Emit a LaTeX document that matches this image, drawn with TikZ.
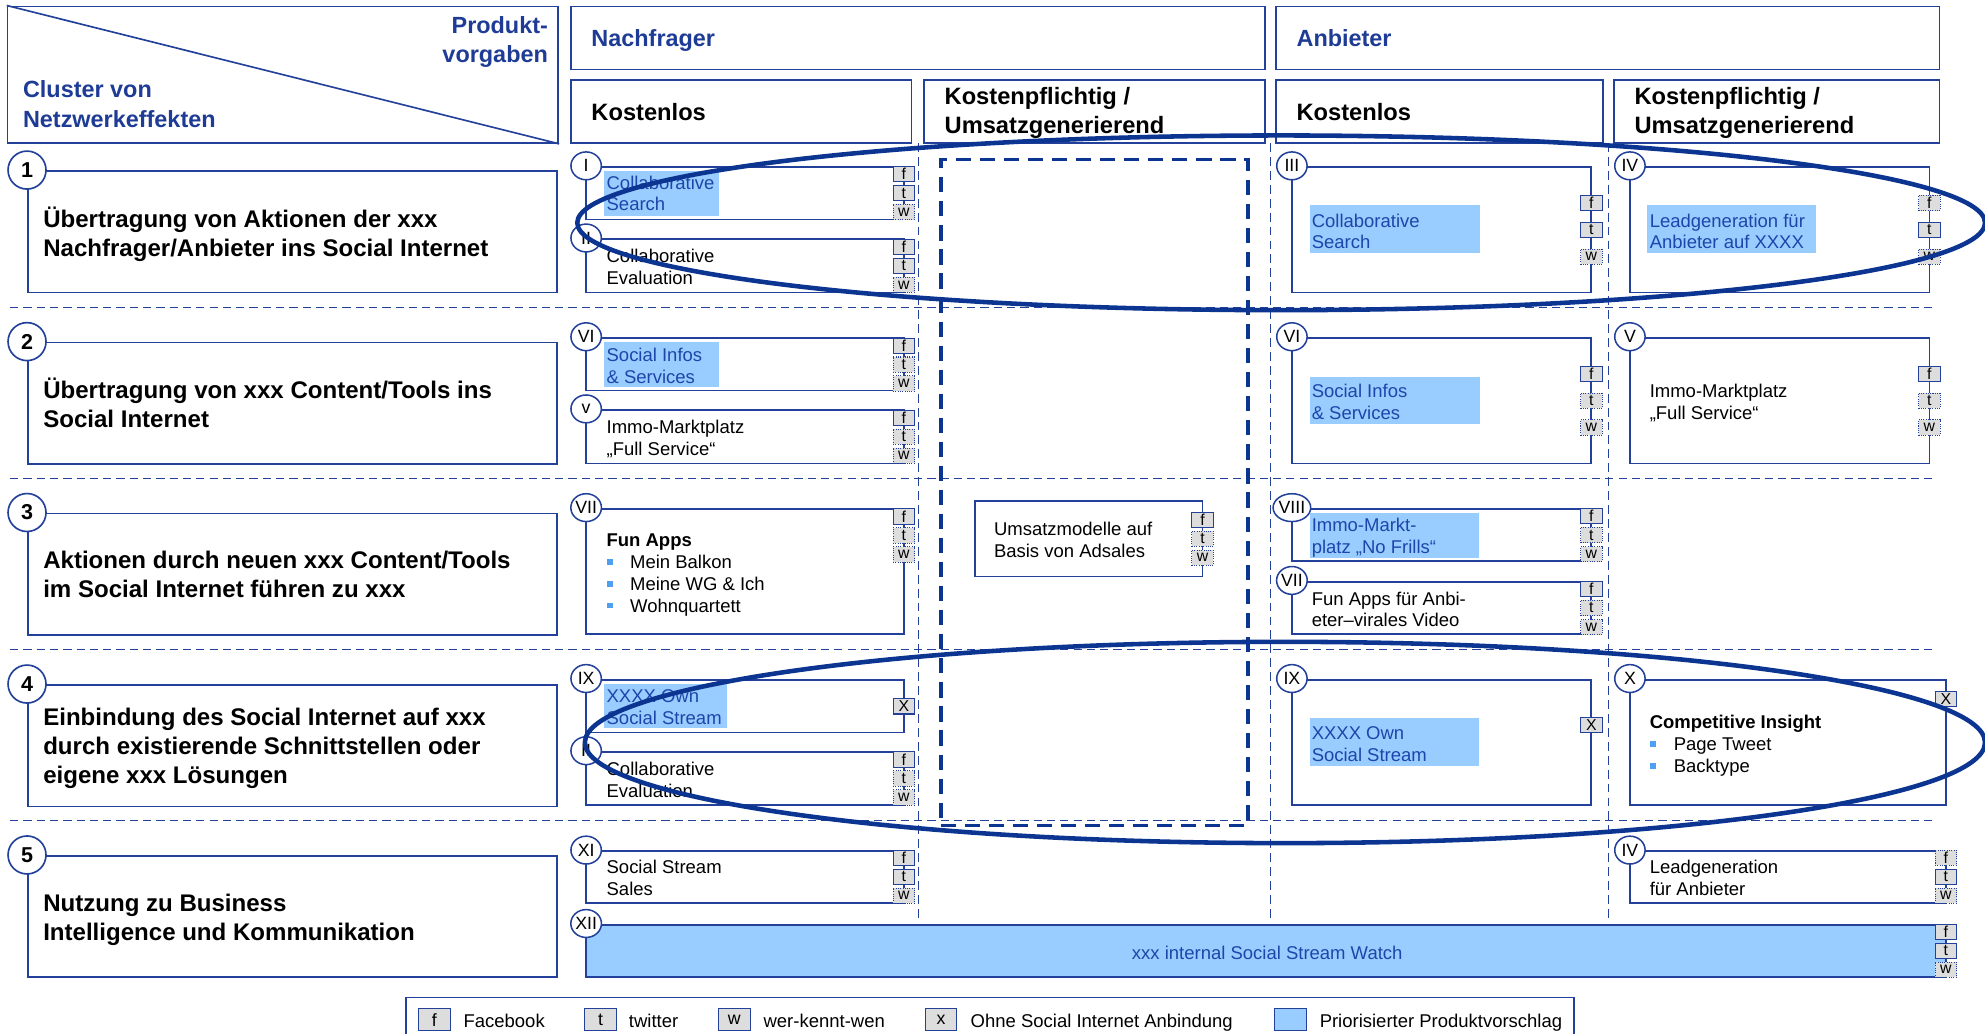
\documentclass[tikz,border=0pt]{standalone}
\usepackage{fontspec}
\setmainfont{Liberation Sans}
\usetikzlibrary{fit,shapes.geometric}
\definecolor{bblue}{RGB}{35,65,155}
\definecolor{navy}{RGB}{12,52,145}
\definecolor{hdrblue}{RGB}{30,60,150}
\definecolor{hlfill}{RGB}{153,204,255}
\definecolor{hltext}{RGB}{30,70,170}
\definecolor{bgray}{RGB}{221,221,221}
\definecolor{bulletblue}{RGB}{80,160,240}

% three channel badges (f / t / w) stacked on a box edge
\newcommand\ftw[8]{%
  \node[bdg,#6] (#1f) at (#2,#3) {f};
  \node[bdg,#7] (#1t) at (#2,#4) {t};
  \node[bdg,#8] (#1w) at (#2,#5) {w};}

\tikzset{
  box/.style={draw=bblue, line width=1.3pt, fill=white, inner sep=0pt},
  bigc/.style={circle, draw=bblue, line width=1.3pt, fill=white, minimum size=30pt, inner sep=0pt, font=\fontsize{17}{17}\selectfont\bfseries},
  romc/.style={ellipse, draw=bblue, line width=1.2pt, fill=white, minimum width=24pt, minimum height=22pt, inner sep=0pt, font=\fontsize{14}{14}\selectfont},
  bdg/.style={draw=bblue, fill=bgray, line width=0.8pt, minimum width=17pt, minimum height=12pt, inner sep=0pt, font=\fontsize{12.5}{12.5}\selectfont},
  bon/.style={},
  boff/.style={densely dotted},
  hl/.style={fill=hlfill, inner sep=0pt},
  ctext/.style={anchor=west, align=left, inner sep=0pt, font=\fontsize{14.6}{17.3}\selectfont, execute at begin node=\strut, execute at end node=\strut, yshift=-2.8pt},
  bluetext/.style={ctext, text=hltext},
  boldtext/.style={ctext, font=\fontsize{14.6}{17.3}\selectfont\bfseries},
  lbltext/.style={ctext, font=\fontsize{19}{23}\selectfont\bfseries, yshift=-0.6pt},
  hdrtext/.style={ctext, font=\fontsize{18.5}{23}\selectfont\bfseries, text=hdrblue, yshift=0.7pt},
  hdrblack/.style={ctext, font=\fontsize{18.7}{23}\selectfont\bfseries, yshift=0.4pt},
  rowsep/.style={bblue, line width=1.2pt, dash pattern=on 6.5pt off 4pt},
  colsep/.style={bblue, line width=1.2pt, dash pattern=on 7pt off 4pt},
  bul/.style={fill=bulletblue, minimum size=4.5pt, inner sep=0pt},
  focus/.style={ellipse, draw=navy, line width=3.6pt, inner sep=0pt},
  lbdg/.style={draw=bblue, fill=bgray, line width=0.8pt, minimum width=25pt, minimum height=17pt, inner sep=0pt, font=\fontsize{14}{14}\selectfont},
}

\begin{document}
\begin{tikzpicture}[x=1pt,y=-1pt]
\useasboundingbox (0,0) rectangle (1568,816);
\clip (0,0) rectangle (1568,816);

% row and column separators
\foreach \yy in {243,378,513,648} \draw[rowsep] (8,\yy) -- (1530,\yy);
\foreach \xx in {725.5,1003.5,1270.5} \draw[colsep] (\xx,113) -- (\xx,726);

% paid-offer area on the demand side
\node[draw=navy, line width=3pt, dash pattern=on 12pt off 7pt, inner sep=0pt, fit={(743,126) (986,652)}] (paid) {};

% ---------- header ----------
\node[box, fit={(6,5) (441,113)}] (corner) {};
\draw[bblue, line width=1.3pt] (corner.north west) -- (corner.south east);
\node[hdrtext, anchor=east, align=right] (prod) at (433,32.5) {Produkt-\\vorgaben};
\node[hdrtext] (clus) at (18,83.5) {Cluster von\\Netzwerkeffekten};

\node[box, fit={(451,5) (999,55)}] (nach) {};
\node[hdrtext] (nachT) at (467,30) {Nachfrager};
\node[box, fit={(1008,5) (1532,55)}] (anb) {};
\node[hdrtext] (anbT) at (1024,30) {Anbieter};

\node[box, fit={(451,63) (720,113)}] (nk) {};
\node[hdrblack] (nkT) at (467,88) {Kostenlos};
\node[box, fit={(730,63) (999,113)}] (np) {};
\node[hdrblack] (npT) at (746,88.5) {Kostenpflichtig /\\Umsatzgenerierend};
\node[box, fit={(1008,63) (1266,113)}] (ak) {};
\node[hdrblack] (akT) at (1024,88) {Kostenlos};
\node[box, fit={(1275,63) (1532,113)}] (ap) {};
\node[hdrblack] (apT) at (1291,88.5) {Kostenpflichtig /\\Umsatzgenerierend};

% ---------- cluster rows ----------
\node[box, fit={(22,135) (440,231)}] (r1) {};
\node[lbltext] (r1t) at (34,183) {Übertragung von Aktionen der xxx\\Nachfrager/Anbieter ins Social Internet};
\node[bigc] (r1n) at (r1.north west) {1};

\node[box, fit={(22,270.5) (440,366.5)}] (r2) {};
\node[lbltext] (r2t) at (34,318.5) {Übertragung von xxx Content/Tools ins\\Social Internet};
\node[bigc] (r2n) at (r2.north west) {2};

\node[box, fit={(22,405.5) (440,501.5)}] (r3) {};
\node[lbltext] (r3t) at (34,454) {Aktionen durch neuen xxx Content/Tools\\im Social Internet führen zu xxx};
\node[bigc] (r3n) at (r3.north west) {3};

\node[box, fit={(22,541) (440,637)}] (r4) {};
\node[lbltext] (r4t) at (34,589) {Einbindung des Social Internet auf xxx\\durch existierende Schnittstellen oder\\eigene xxx Lösungen};
\node[bigc] (r4n) at (r4.north west) {4};

\node[box, fit={(22,676) (440,772)}] (r5) {};
\node[lbltext] (r5t) at (34,724.5) {Nutzung zu Business\\Intelligence und Kommunikation};
\node[bigc] (r5n) at (r5.north west) {5};

% ---------- demand side, free ----------
\node[box, fit={(463,132) (714,173.5)}] (cI) {};
\node[hl, fit={(477,135) (568,171)}] (hlI) {};
\node[bluetext] (tI) at (479,152.5) {Collaborative\\Search};
\node[romc] (nI) at (463,131) {I};
\ftw{bI}{714}{137.5}{152.5}{167.5}{bon}{bon}{boff}

\node[box, fit={(463,189) (714,231)}] (cII) {};
\node[ctext] (tII) at (479,210.5) {Collaborative\\Evaluation};
\node[romc] (nII) at (463,188) {II};
\ftw{bII}{714}{195}{210}{225}{bon}{bon}{boff}

\node[box, fit={(463,267) (714,308.5)}] (cVIn) {};
\node[hl, fit={(477,270) (568,305.5)}] (hlVIn) {};
\node[bluetext] (tVIn) at (479,288.5) {Social Infos\\\& Services};
\node[romc] (nVIn) at (463,266) {VI};
\ftw{bVIn}{714}{273}{288}{303}{bon}{boff}{boff}

\node[box, fit={(463,324) (714,366)}] (cVn) {};
\node[ctext] (tVn) at (479,345.5) {Immo-Marktplatz\\„Full Service“};
\node[romc] (nVn) at (463,323) {v};
\ftw{bVn}{714}{330}{345}{360}{bon}{boff}{boff}

\node[box, fit={(463,402) (714,501)}] (cVIIn) {};
\node[boldtext] (tVIIn) at (479,425.5) {Fun Apps};
\node[bul] (u1) at (482,443.8) {};
\node[bul] (u2) at (482,461.1) {};
\node[bul] (u3) at (482,478.4) {};
\node[ctext] (lVIIn) at (497.6,461.1) {Mein Balkon\\Meine WG \& Ich\\Wohnquartett};
\node[romc] (nVIIn) at (463,401) {VII};
\ftw{bVIIn}{714}{408}{423}{438}{bon}{boff}{boff}

\node[box, fit={(463,537) (714,578.5)}] (cIXn) {};
\node[hl, fit={(477,540) (574,575)}] (hlIXn) {};
\node[bluetext] (tIXn) at (479,558.5) {XXXX Own\\Social Stream};
\node[romc] (nIXn) at (463,536) {IX};
\node[bdg] (bIXn) at (714,558) {X};

\node[box, fit={(463,594) (714,636)}] (cIIb) {};
\node[ctext] (tIIb) at (479,615.5) {Collaborative\\Evaluation};
\node[romc] (nIIb) at (463,593) {II};
\ftw{bIIb}{714}{600}{615}{630}{bon}{boff}{boff}

\node[box, fit={(463,672) (714,713.5)}] (cXI) {};
\node[ctext] (tXI) at (479,693.3) {Social Stream\\Sales};
\node[romc] (nXI) at (463,671.5) {XI};
\ftw{bXI}{714}{677.5}{692.5}{707.5}{bon}{bon}{boff}

\node[box, fill=hlfill, fit={(463,730.5) (1537,772)}] (cXII) {};
\node[ctext, anchor=center, text=hltext] (tXII) at (1001,751.5) {xxx internal Social Stream Watch};
\node[romc] (nXII) at (463,729.5) {XII};
\ftw{bXII}{1537}{736}{751}{766}{bon}{bon}{boff}

% ---------- demand side, paid ----------
\node[box, fit={(770,396) (950,455.5)}] (cAd) {};
\node[ctext] (tAd) at (785,426.3) {Umsatzmodelle auf\\Basis von Adsales};
\ftw{bAd}{950}{410.5}{425.5}{440.5}{bon}{boff}{boff}

% ---------- supply side, free ----------
\node[box, fit={(1020.5,132) (1257,231)}] (cIII) {};
\node[hl, fit={(1034.6,162) (1169,199.6)}] (hlIII) {};
\node[bluetext] (tIII) at (1036,182.5) {Collaborative\\Search};
\node[romc] (nIII) at (1020.5,131) {III};
\ftw{bIII}{1257}{160.3}{181.5}{202.7}{bon}{bon}{boff}

\node[box, fit={(1020.5,267) (1257,366)}] (cVIa) {};
\node[hl, fit={(1034.6,297.5) (1169,335)}] (hlVIa) {};
\node[bluetext] (tVIa) at (1036,317.3) {Social Infos\\\& Services};
\node[romc] (nVIa) at (1020.5,266) {VI};
\ftw{bVIa}{1257}{295.3}{316.5}{337.7}{bon}{boff}{boff}

\node[box, fit={(1020.5,402) (1257,443)}] (cVIII) {};
\node[hl, fit={(1034.6,405.4) (1168.6,440.5)}] (hlVIII) {};
\node[bluetext] (tVIII) at (1036,423.3) {Immo-Markt-\\platz „No Frills“};
\node[romc] (nVIII) at (1020.5,401) {VIII};
\ftw{bVIII}{1257}{407.5}{422.6}{437.7}{bon}{boff}{boff}

\node[box, fit={(1020.5,459.5) (1257,501)}] (cVIIa) {};
\node[ctext] (tVIIa) at (1036,481.1) {Fun Apps für Anbi-\\eter–virales Video};
\node[romc] (nVIIa) at (1020.5,458.5) {VII};
\ftw{bVIIa}{1257}{465}{480.2}{495.4}{bon}{boff}{boff}

\node[box, fit={(1020.5,537) (1257,636)}] (cIXa) {};
\node[hl, fit={(1034.6,567.4) (1168.6,604.8)}] (hlIXa) {};
\node[bluetext] (tIXa) at (1036,587.4) {XXXX Own\\Social Stream};
\node[romc] (nIXa) at (1020.5,536) {IX};
\node[bdg] (bIXa) at (1257,573) {X};

% ---------- supply side, paid ----------
\node[box, fit={(1287.5,132) (1524,231)}] (cIV) {};
\node[hl, fit={(1301,162) (1434.6,199.6)}] (hlIV) {};
\node[bluetext] (tIV) at (1303,182.5) {Leadgeneration für\\Anbieter auf XXXX};
\node[romc] (nIV) at (1287.5,131) {IV};
\ftw{bIV}{1524}{160.3}{181.5}{202.7}{boff}{bon}{boff}

\node[box, fit={(1287.5,267) (1524,366)}] (cVa) {};
\node[ctext] (tVa) at (1303,317.3) {Immo-Marktplatz\\„Full Service“};
\node[romc] (nVa) at (1287.5,266) {V};
\ftw{bVa}{1524}{295.3}{316.5}{337.7}{bon}{boff}{boff}

\node[box, fit={(1287.5,537) (1537,636)}] (cX) {};
\node[boldtext] (tX) at (1303,569) {Competitive Insight};
\node[bul] (u4) at (1305.6,587.7) {};
\node[bul] (u5) at (1305.6,604.8) {};
\node[ctext] (lX) at (1322,596.3) {Page Tweet\\Backtype};
\node[romc] (nX) at (1287.5,536) {X};
\node[bdg] (bX) at (1537,552) {X};

\node[box, fit={(1287.5,672) (1537,713.5)}] (cIVb) {};
\node[ctext] (tIVb) at (1303,693.5) {Leadgeneration\\für Anbieter};
\node[romc] (nIVb) at (1287.5,671.5) {IV};
\ftw{bIVb}{1537}{677.5}{692.5}{707.5}{boff}{bon}{boff}

% ---------- legend ----------
\node[box, fit={(320.5,788) (1243.5,840)}] (leg) {};
\node[lbdg] (lf) at (343,805.5) {f};
\node[ctext] (lfT) at (366,805.5) {Facebook};
\node[lbdg] (lt) at (474.4,805.5) {t};
\node[ctext] (ltT) at (496.6,805.5) {twitter};
\node[lbdg] (lw) at (580,805.5) {w};
\node[ctext] (lwT) at (603,805.5) {wer-kennt-wen};
\node[lbdg] (lx) at (743.3,805.5) {x};
\node[ctext] (lxT) at (766.6,805.5) {Ohne Social Internet Anbindung};
\node[lbdg, fill=hlfill] (lp) at (1019.5,805.5) {};
\node[ctext] (lpT) at (1042.3,805.5) {Priorisierter Produktvorschlag};

% ---------- focus ellipses ----------
\node[focus, minimum width=1112pt, minimum height=138pt] (focusA) at (1012,176) {};
\node[focus, minimum width=1106pt, minimum height=159pt] (focusB) at (1015,586.5) {};
\end{tikzpicture}
\end{document}
